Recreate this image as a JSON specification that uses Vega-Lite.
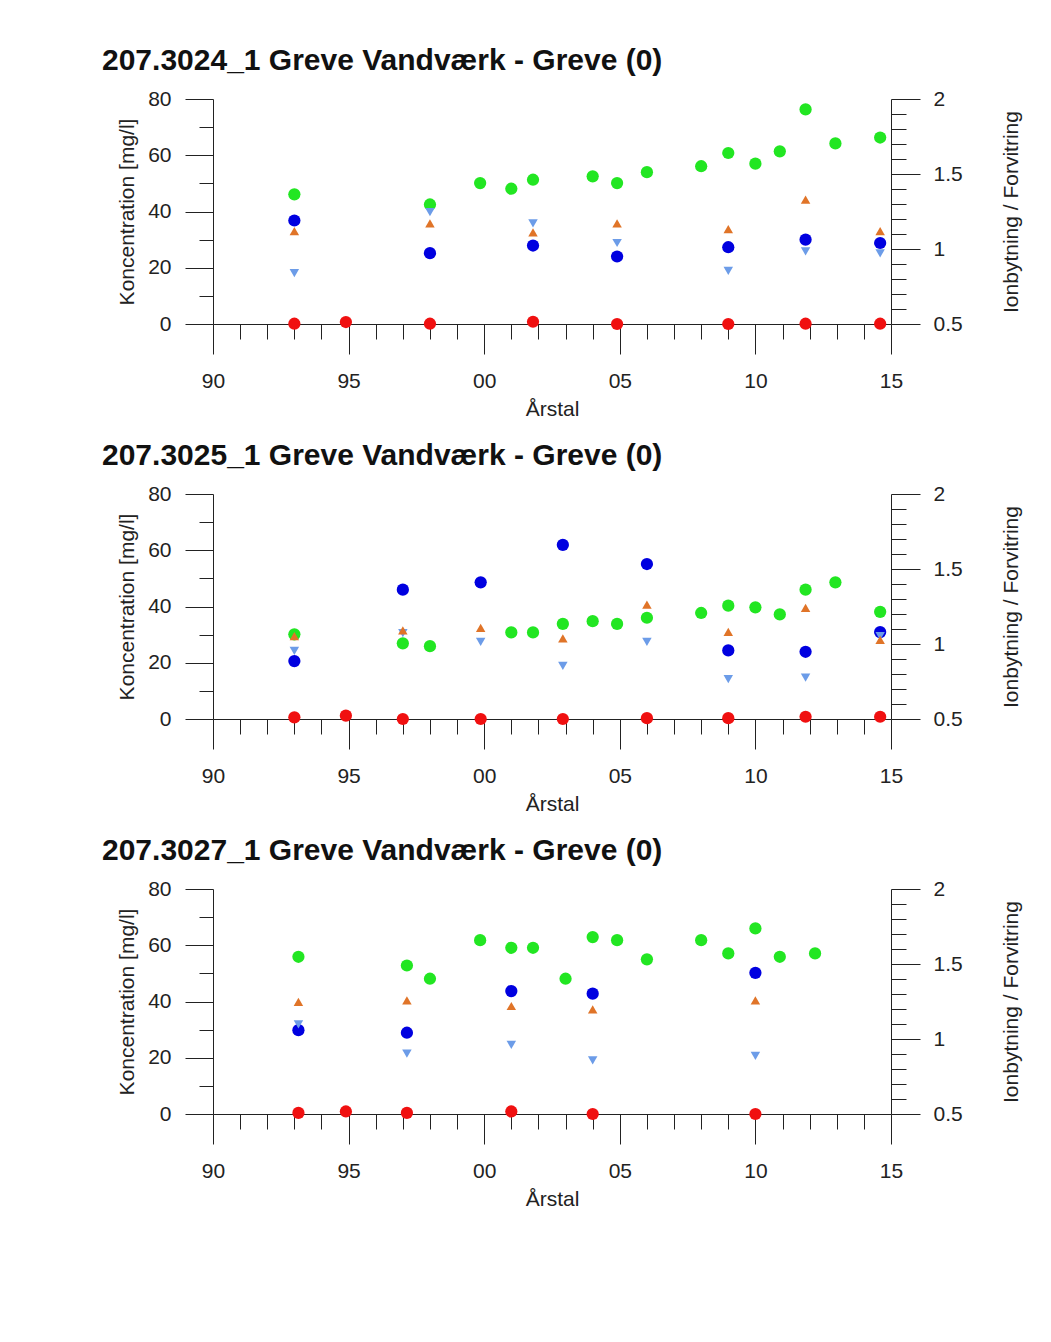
{
  "$schema": "https://vega.github.io/schema/vega-lite/v6.json",
  "padding": {"left": 102, "top": 46, "right": 5, "bottom": 5},
  "background": "white",
  "config": {
    "font": "Liberation Sans",
    "view": {"stroke": null},
    "axis": {"grid": false, "domainColor": "#222", "tickColor": "#222", "labelColor": "#222", "titleColor": "#222", "labelFont": "Liberation Sans", "titleFont": "Liberation Sans", "titleFontWeight": "normal", "labelFontSize": 21, "titleFontSize": 21, "tickWidth": 1, "domainWidth": 1, "labelFlush": false},
    "title": {"font": "Liberation Sans", "fontSize": 30, "fontWeight": "bold", "color": "#111", "anchor": "start", "frame": "group", "dx": -111, "baseline": "alphabetic", "offset": 12}
  },
  "datasets": {
    "d": [
      {"panel": 1, "series": "Klorid", "year": 1993.0, "value": 46.1},
      {"panel": 1, "series": "Klorid", "year": 1998.0, "value": 42.5},
      {"panel": 1, "series": "Klorid", "year": 1999.85, "value": 50.1},
      {"panel": 1, "series": "Klorid", "year": 2001.0, "value": 48.1},
      {"panel": 1, "series": "Klorid", "year": 2001.8, "value": 51.3},
      {"panel": 1, "series": "Klorid", "year": 2004.0, "value": 52.5},
      {"panel": 1, "series": "Klorid", "year": 2004.9, "value": 50.1},
      {"panel": 1, "series": "Klorid", "year": 2006.0, "value": 54.0},
      {"panel": 1, "series": "Klorid", "year": 2008.0, "value": 56.1},
      {"panel": 1, "series": "Klorid", "year": 2009.0, "value": 60.8},
      {"panel": 1, "series": "Klorid", "year": 2010.0, "value": 57.0},
      {"panel": 1, "series": "Klorid", "year": 2010.9, "value": 61.4},
      {"panel": 1, "series": "Klorid", "year": 2011.85, "value": 76.3},
      {"panel": 1, "series": "Klorid", "year": 2012.95, "value": 64.2},
      {"panel": 1, "series": "Klorid", "year": 2014.6, "value": 66.3},
      {"panel": 1, "series": "Sulfat", "year": 1993.0, "value": 36.8},
      {"panel": 1, "series": "Sulfat", "year": 1998.0, "value": 25.2},
      {"panel": 1, "series": "Sulfat", "year": 2001.8, "value": 27.9},
      {"panel": 1, "series": "Sulfat", "year": 2004.9, "value": 24.0},
      {"panel": 1, "series": "Sulfat", "year": 2009.0, "value": 27.3},
      {"panel": 1, "series": "Sulfat", "year": 2011.85, "value": 30.0},
      {"panel": 1, "series": "Sulfat", "year": 2014.6, "value": 28.8},
      {"panel": 1, "series": "Nitrat", "year": 1993.0, "value": 0.1},
      {"panel": 1, "series": "Nitrat", "year": 1994.9, "value": 0.7},
      {"panel": 1, "series": "Nitrat", "year": 1998.0, "value": 0.1},
      {"panel": 1, "series": "Nitrat", "year": 2001.8, "value": 0.8},
      {"panel": 1, "series": "Nitrat", "year": 2004.9, "value": 0.0},
      {"panel": 1, "series": "Nitrat", "year": 2009.0, "value": 0.0},
      {"panel": 1, "series": "Nitrat", "year": 2011.85, "value": 0.1},
      {"panel": 1, "series": "Nitrat", "year": 2014.6, "value": 0.1},
      {"panel": 1, "series": "Ionbytning", "year": 1993.0, "value": 1.119},
      {"panel": 1, "series": "Ionbytning", "year": 1998.0, "value": 1.171},
      {"panel": 1, "series": "Ionbytning", "year": 2001.8, "value": 1.111},
      {"panel": 1, "series": "Ionbytning", "year": 2004.9, "value": 1.171},
      {"panel": 1, "series": "Ionbytning", "year": 2009.0, "value": 1.132},
      {"panel": 1, "series": "Ionbytning", "year": 2011.85, "value": 1.329},
      {"panel": 1, "series": "Ionbytning", "year": 2014.6, "value": 1.119},
      {"panel": 1, "series": "Forvitring", "year": 1993.0, "value": 0.839},
      {"panel": 1, "series": "Forvitring", "year": 1998.0, "value": 1.246},
      {"panel": 1, "series": "Forvitring", "year": 2001.8, "value": 1.171},
      {"panel": 1, "series": "Forvitring", "year": 2004.9, "value": 1.04},
      {"panel": 1, "series": "Forvitring", "year": 2009.0, "value": 0.854},
      {"panel": 1, "series": "Forvitring", "year": 2011.85, "value": 0.984},
      {"panel": 1, "series": "Forvitring", "year": 2014.6, "value": 0.971},

      {"panel": 2, "series": "Klorid", "year": 1993.0, "value": 30.1},
      {"panel": 2, "series": "Klorid", "year": 1997.0, "value": 26.9},
      {"panel": 2, "series": "Klorid", "year": 1998.0, "value": 25.9},
      {"panel": 2, "series": "Klorid", "year": 2001.0, "value": 30.8},
      {"panel": 2, "series": "Klorid", "year": 2001.8, "value": 30.8},
      {"panel": 2, "series": "Klorid", "year": 2002.9, "value": 33.8},
      {"panel": 2, "series": "Klorid", "year": 2004.0, "value": 34.8},
      {"panel": 2, "series": "Klorid", "year": 2004.9, "value": 33.8},
      {"panel": 2, "series": "Klorid", "year": 2006.0, "value": 36.0},
      {"panel": 2, "series": "Klorid", "year": 2008.0, "value": 37.7},
      {"panel": 2, "series": "Klorid", "year": 2009.0, "value": 40.3},
      {"panel": 2, "series": "Klorid", "year": 2010.0, "value": 39.7},
      {"panel": 2, "series": "Klorid", "year": 2010.9, "value": 37.2},
      {"panel": 2, "series": "Klorid", "year": 2011.85, "value": 46.0},
      {"panel": 2, "series": "Klorid", "year": 2012.95, "value": 48.6},
      {"panel": 2, "series": "Klorid", "year": 2014.6, "value": 38.1},
      {"panel": 2, "series": "Sulfat", "year": 1993.0, "value": 20.6},
      {"panel": 2, "series": "Sulfat", "year": 1997.0, "value": 46.0},
      {"panel": 2, "series": "Sulfat", "year": 1999.87, "value": 48.6},
      {"panel": 2, "series": "Sulfat", "year": 2002.9, "value": 61.9},
      {"panel": 2, "series": "Sulfat", "year": 2006.0, "value": 55.1},
      {"panel": 2, "series": "Sulfat", "year": 2009.0, "value": 24.4},
      {"panel": 2, "series": "Sulfat", "year": 2011.85, "value": 23.9},
      {"panel": 2, "series": "Sulfat", "year": 2014.6, "value": 30.9},
      {"panel": 2, "series": "Nitrat", "year": 1993.0, "value": 0.6},
      {"panel": 2, "series": "Nitrat", "year": 1994.9, "value": 1.2},
      {"panel": 2, "series": "Nitrat", "year": 1997.0, "value": 0.0},
      {"panel": 2, "series": "Nitrat", "year": 1999.87, "value": 0.0},
      {"panel": 2, "series": "Nitrat", "year": 2002.9, "value": 0.0},
      {"panel": 2, "series": "Nitrat", "year": 2006.0, "value": 0.3},
      {"panel": 2, "series": "Nitrat", "year": 2009.0, "value": 0.3},
      {"panel": 2, "series": "Nitrat", "year": 2011.85, "value": 0.8},
      {"panel": 2, "series": "Nitrat", "year": 2014.6, "value": 0.8},
      {"panel": 2, "series": "Ionbytning", "year": 1993.0, "value": 1.053},
      {"panel": 2, "series": "Ionbytning", "year": 1997.0, "value": 1.091},
      {"panel": 2, "series": "Ionbytning", "year": 1999.87, "value": 1.108},
      {"panel": 2, "series": "Ionbytning", "year": 2002.9, "value": 1.038},
      {"panel": 2, "series": "Ionbytning", "year": 2006.0, "value": 1.263},
      {"panel": 2, "series": "Ionbytning", "year": 2009.0, "value": 1.081},
      {"panel": 2, "series": "Ionbytning", "year": 2011.85, "value": 1.241},
      {"panel": 2, "series": "Ionbytning", "year": 2014.6, "value": 1.027},
      {"panel": 2, "series": "Forvitring", "year": 1993.0, "value": 0.954},
      {"panel": 2, "series": "Forvitring", "year": 1997.0, "value": 1.072},
      {"panel": 2, "series": "Forvitring", "year": 1999.87, "value": 1.014},
      {"panel": 2, "series": "Forvitring", "year": 2002.9, "value": 0.854},
      {"panel": 2, "series": "Forvitring", "year": 2006.0, "value": 1.014},
      {"panel": 2, "series": "Forvitring", "year": 2009.0, "value": 0.766},
      {"panel": 2, "series": "Forvitring", "year": 2011.85, "value": 0.776},
      {"panel": 2, "series": "Forvitring", "year": 2014.6, "value": 1.053},

      {"panel": 3, "series": "Klorid", "year": 1993.15, "value": 55.9},
      {"panel": 3, "series": "Klorid", "year": 1997.15, "value": 52.8},
      {"panel": 3, "series": "Klorid", "year": 1998.0, "value": 48.1},
      {"panel": 3, "series": "Klorid", "year": 1999.85, "value": 61.8},
      {"panel": 3, "series": "Klorid", "year": 2001.0, "value": 59.1},
      {"panel": 3, "series": "Klorid", "year": 2001.8, "value": 59.1},
      {"panel": 3, "series": "Klorid", "year": 2003.0, "value": 48.1},
      {"panel": 3, "series": "Klorid", "year": 2004.0, "value": 62.9},
      {"panel": 3, "series": "Klorid", "year": 2004.9, "value": 61.8},
      {"panel": 3, "series": "Klorid", "year": 2006.0, "value": 55.0},
      {"panel": 3, "series": "Klorid", "year": 2008.0, "value": 61.8},
      {"panel": 3, "series": "Klorid", "year": 2009.0, "value": 57.1},
      {"panel": 3, "series": "Klorid", "year": 2010.0, "value": 66.0},
      {"panel": 3, "series": "Klorid", "year": 2010.9, "value": 55.9},
      {"panel": 3, "series": "Klorid", "year": 2012.2, "value": 57.1},
      {"panel": 3, "series": "Sulfat", "year": 1993.15, "value": 29.8},
      {"panel": 3, "series": "Sulfat", "year": 1997.15, "value": 28.9},
      {"panel": 3, "series": "Sulfat", "year": 2001.0, "value": 43.7},
      {"panel": 3, "series": "Sulfat", "year": 2004.0, "value": 42.8},
      {"panel": 3, "series": "Sulfat", "year": 2010.0, "value": 50.2},
      {"panel": 3, "series": "Nitrat", "year": 1993.15, "value": 0.4},
      {"panel": 3, "series": "Nitrat", "year": 1994.9, "value": 0.9},
      {"panel": 3, "series": "Nitrat", "year": 1997.15, "value": 0.4},
      {"panel": 3, "series": "Nitrat", "year": 2001.0, "value": 0.9},
      {"panel": 3, "series": "Nitrat", "year": 2004.0, "value": 0.0},
      {"panel": 3, "series": "Nitrat", "year": 2010.0, "value": 0.0},
      {"panel": 3, "series": "Ionbytning", "year": 1993.15, "value": 1.248},
      {"panel": 3, "series": "Ionbytning", "year": 1997.15, "value": 1.258},
      {"panel": 3, "series": "Ionbytning", "year": 2001.0, "value": 1.22},
      {"panel": 3, "series": "Ionbytning", "year": 2004.0, "value": 1.198},
      {"panel": 3, "series": "Ionbytning", "year": 2010.0, "value": 1.258},
      {"panel": 3, "series": "Forvitring", "year": 1993.15, "value": 1.098},
      {"panel": 3, "series": "Forvitring", "year": 1997.15, "value": 0.903},
      {"panel": 3, "series": "Forvitring", "year": 2001.0, "value": 0.961},
      {"panel": 3, "series": "Forvitring", "year": 2004.0, "value": 0.858},
      {"panel": 3, "series": "Forvitring", "year": 2010.0, "value": 0.888}
    ]
  },
  "spacing": 22,
  "vconcat": [
    {
      "title": "207.3024_1 Greve Vandværk - Greve (0)",
      "width": 678, "height": 225,
      "data": {"name": "d"},
      "transform": [{"filter": "datum.panel == 1"}],
      "resolve": {"scale": {"y": "independent"}, "axis": {"x": "independent", "y": "independent"}},
      "layer": [
        {"transform": [{"filter": "datum.series == 'Klorid'"}], "mark": {"type": "point", "filled": true, "opacity": 1, "size": 150, "color": "#22e622"},
         "encoding": {"x": {"field": "year", "type": "quantitative", "scale": {"domain": [1990, 2015], "nice": false, "zero": false}, "axis": {"orient": "bottom", "values": [1990, 1995, 2000, 2005, 2010, 2015], "labelExpr": "(datum.value % 100) < 10 ? '0' + (datum.value % 100) : '' + (datum.value % 100)", "tickSize": 30, "labelPadding": 16, "title": "Årstal", "titlePadding": 7}},
                      "y": {"field": "value", "type": "quantitative", "scale": {"domain": [0, 80], "nice": false, "zero": false}, "axis": {"orient": "left", "values": [0, 20, 40, 60, 80], "tickSize": 28, "labelPadding": 14, "title": "Koncentration [mg/l]", "titlePadding": 10}}}},
        {"transform": [{"filter": "datum.series == 'Sulfat'"}], "mark": {"type": "point", "filled": true, "opacity": 1, "size": 150, "color": "#0000e0"},
         "encoding": {"x": {"field": "year", "type": "quantitative", "axis": {"orient": "bottom", "values": [1991, 1992, 1993, 1994, 1996, 1997, 1998, 1999, 2001, 2002, 2003, 2004, 2006, 2007, 2008, 2009, 2011, 2012, 2013, 2014], "tickSize": 15, "labels": false, "domain": false, "title": null}},
                      "y": {"field": "value", "type": "quantitative", "scale": {"domain": [0, 80], "nice": false, "zero": false}, "axis": {"orient": "left", "values": [10, 30, 50, 70], "tickSize": 14, "labels": false, "domain": false, "title": null}}}},
        {"transform": [{"filter": "datum.series == 'Forvitring'"}], "mark": {"type": "point", "shape": "triangle-down", "filled": true, "opacity": 1, "size": 90, "color": "#6c9ce8"},
         "encoding": {"x": {"field": "year", "type": "quantitative", "axis": null},
                      "y": {"field": "value", "type": "quantitative", "scale": {"domain": [0.5, 2], "nice": false, "zero": false}, "axis": {"orient": "right", "values": [0.6, 0.7, 0.8, 0.9, 1.1, 1.2, 1.3, 1.4, 1.6, 1.7, 1.8, 1.9], "tickSize": 15, "labels": false, "domain": false, "title": null}}}},
        {"transform": [{"filter": "datum.series == 'Ionbytning'"}], "mark": {"type": "point", "shape": "triangle-up", "filled": true, "opacity": 1, "size": 90, "color": "#e07428"},
         "encoding": {"x": {"field": "year", "type": "quantitative", "axis": null},
                      "y": {"field": "value", "type": "quantitative", "scale": {"domain": [0.5, 2], "nice": false, "zero": false}, "axis": {"orient": "right", "values": [0.5, 1, 1.5, 2], "labelExpr": "'' + datum.value", "tickSize": 29, "labelPadding": 13, "title": "Ionbytning / Forvitring", "titleAngle": 270, "titlePadding": 59}}}},
        {"transform": [{"filter": "datum.series == 'Nitrat'"}], "mark": {"type": "point", "filled": true, "opacity": 1, "size": 150, "color": "#f01010"},
         "encoding": {"x": {"field": "year", "type": "quantitative", "axis": null},
                      "y": {"field": "value", "type": "quantitative", "scale": {"domain": [0, 80], "nice": false, "zero": false}, "axis": null}}}
      ]
    },
    {
      "title": "207.3025_1 Greve Vandværk - Greve (0)",
      "width": 678, "height": 225,
      "data": {"name": "d"},
      "transform": [{"filter": "datum.panel == 2"}],
      "resolve": {"scale": {"y": "independent"}, "axis": {"x": "independent", "y": "independent"}},
      "layer": [
        {"transform": [{"filter": "datum.series == 'Klorid'"}], "mark": {"type": "point", "filled": true, "opacity": 1, "size": 150, "color": "#22e622"},
         "encoding": {"x": {"field": "year", "type": "quantitative", "scale": {"domain": [1990, 2015], "nice": false, "zero": false}, "axis": {"orient": "bottom", "values": [1990, 1995, 2000, 2005, 2010, 2015], "labelExpr": "(datum.value % 100) < 10 ? '0' + (datum.value % 100) : '' + (datum.value % 100)", "tickSize": 30, "labelPadding": 16, "title": "Årstal", "titlePadding": 7}},
                      "y": {"field": "value", "type": "quantitative", "scale": {"domain": [0, 80], "nice": false, "zero": false}, "axis": {"orient": "left", "values": [0, 20, 40, 60, 80], "tickSize": 28, "labelPadding": 14, "title": "Koncentration [mg/l]", "titlePadding": 10}}}},
        {"transform": [{"filter": "datum.series == 'Sulfat'"}], "mark": {"type": "point", "filled": true, "opacity": 1, "size": 150, "color": "#0000e0"},
         "encoding": {"x": {"field": "year", "type": "quantitative", "axis": {"orient": "bottom", "values": [1991, 1992, 1993, 1994, 1996, 1997, 1998, 1999, 2001, 2002, 2003, 2004, 2006, 2007, 2008, 2009, 2011, 2012, 2013, 2014], "tickSize": 15, "labels": false, "domain": false, "title": null}},
                      "y": {"field": "value", "type": "quantitative", "scale": {"domain": [0, 80], "nice": false, "zero": false}, "axis": {"orient": "left", "values": [10, 30, 50, 70], "tickSize": 14, "labels": false, "domain": false, "title": null}}}},
        {"transform": [{"filter": "datum.series == 'Forvitring'"}], "mark": {"type": "point", "shape": "triangle-down", "filled": true, "opacity": 1, "size": 90, "color": "#6c9ce8"},
         "encoding": {"x": {"field": "year", "type": "quantitative", "axis": null},
                      "y": {"field": "value", "type": "quantitative", "scale": {"domain": [0.5, 2], "nice": false, "zero": false}, "axis": {"orient": "right", "values": [0.6, 0.7, 0.8, 0.9, 1.1, 1.2, 1.3, 1.4, 1.6, 1.7, 1.8, 1.9], "tickSize": 15, "labels": false, "domain": false, "title": null}}}},
        {"transform": [{"filter": "datum.series == 'Ionbytning'"}], "mark": {"type": "point", "shape": "triangle-up", "filled": true, "opacity": 1, "size": 90, "color": "#e07428"},
         "encoding": {"x": {"field": "year", "type": "quantitative", "axis": null},
                      "y": {"field": "value", "type": "quantitative", "scale": {"domain": [0.5, 2], "nice": false, "zero": false}, "axis": {"orient": "right", "values": [0.5, 1, 1.5, 2], "labelExpr": "'' + datum.value", "tickSize": 29, "labelPadding": 13, "title": "Ionbytning / Forvitring", "titleAngle": 270, "titlePadding": 59}}}},
        {"transform": [{"filter": "datum.series == 'Nitrat'"}], "mark": {"type": "point", "filled": true, "opacity": 1, "size": 150, "color": "#f01010"},
         "encoding": {"x": {"field": "year", "type": "quantitative", "axis": null},
                      "y": {"field": "value", "type": "quantitative", "scale": {"domain": [0, 80], "nice": false, "zero": false}, "axis": null}}}
      ]
    },
    {
      "title": "207.3027_1 Greve Vandværk - Greve (0)",
      "width": 678, "height": 225,
      "data": {"name": "d"},
      "transform": [{"filter": "datum.panel == 3"}],
      "resolve": {"scale": {"y": "independent"}, "axis": {"x": "independent", "y": "independent"}},
      "layer": [
        {"transform": [{"filter": "datum.series == 'Klorid'"}], "mark": {"type": "point", "filled": true, "opacity": 1, "size": 150, "color": "#22e622"},
         "encoding": {"x": {"field": "year", "type": "quantitative", "scale": {"domain": [1990, 2015], "nice": false, "zero": false}, "axis": {"orient": "bottom", "values": [1990, 1995, 2000, 2005, 2010, 2015], "labelExpr": "(datum.value % 100) < 10 ? '0' + (datum.value % 100) : '' + (datum.value % 100)", "tickSize": 30, "labelPadding": 16, "title": "Årstal", "titlePadding": 7}},
                      "y": {"field": "value", "type": "quantitative", "scale": {"domain": [0, 80], "nice": false, "zero": false}, "axis": {"orient": "left", "values": [0, 20, 40, 60, 80], "tickSize": 28, "labelPadding": 14, "title": "Koncentration [mg/l]", "titlePadding": 10}}}},
        {"transform": [{"filter": "datum.series == 'Sulfat'"}], "mark": {"type": "point", "filled": true, "opacity": 1, "size": 150, "color": "#0000e0"},
         "encoding": {"x": {"field": "year", "type": "quantitative", "axis": {"orient": "bottom", "values": [1991, 1992, 1993, 1994, 1996, 1997, 1998, 1999, 2001, 2002, 2003, 2004, 2006, 2007, 2008, 2009, 2011, 2012, 2013, 2014], "tickSize": 15, "labels": false, "domain": false, "title": null}},
                      "y": {"field": "value", "type": "quantitative", "scale": {"domain": [0, 80], "nice": false, "zero": false}, "axis": {"orient": "left", "values": [10, 30, 50, 70], "tickSize": 14, "labels": false, "domain": false, "title": null}}}},
        {"transform": [{"filter": "datum.series == 'Forvitring'"}], "mark": {"type": "point", "shape": "triangle-down", "filled": true, "opacity": 1, "size": 90, "color": "#6c9ce8"},
         "encoding": {"x": {"field": "year", "type": "quantitative", "axis": null},
                      "y": {"field": "value", "type": "quantitative", "scale": {"domain": [0.5, 2], "nice": false, "zero": false}, "axis": {"orient": "right", "values": [0.6, 0.7, 0.8, 0.9, 1.1, 1.2, 1.3, 1.4, 1.6, 1.7, 1.8, 1.9], "tickSize": 15, "labels": false, "domain": false, "title": null}}}},
        {"transform": [{"filter": "datum.series == 'Ionbytning'"}], "mark": {"type": "point", "shape": "triangle-up", "filled": true, "opacity": 1, "size": 90, "color": "#e07428"},
         "encoding": {"x": {"field": "year", "type": "quantitative", "axis": null},
                      "y": {"field": "value", "type": "quantitative", "scale": {"domain": [0.5, 2], "nice": false, "zero": false}, "axis": {"orient": "right", "values": [0.5, 1, 1.5, 2], "labelExpr": "'' + datum.value", "tickSize": 29, "labelPadding": 13, "title": "Ionbytning / Forvitring", "titleAngle": 270, "titlePadding": 59}}}},
        {"transform": [{"filter": "datum.series == 'Nitrat'"}], "mark": {"type": "point", "filled": true, "opacity": 1, "size": 150, "color": "#f01010"},
         "encoding": {"x": {"field": "year", "type": "quantitative", "axis": null},
                      "y": {"field": "value", "type": "quantitative", "scale": {"domain": [0, 80], "nice": false, "zero": false}, "axis": null}}}
      ]
    }
  ]
}
